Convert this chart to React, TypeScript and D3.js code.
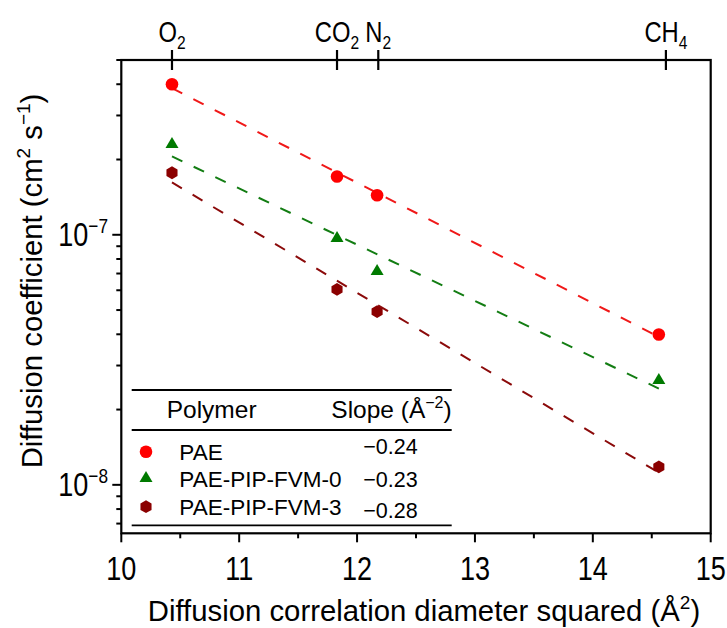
import React from 'react';
import * as d3 from 'd3';

// ---- data ----
const gasBase = ["O", "CO", "N", "CH"];
const gasSub = ["2", "2", "2", "4"];
const gasTickX = [10.43, 11.83, 12.18, 14.62];
const gasX = [10.43, 11.83, 12.17, 14.56];
const seriesNames = ["PAE", "PAE-PIP-FVM-0", "PAE-PIP-FVM-3"];
const paeD = [4.0e-7, 1.71e-7, 1.44e-7, 3.99e-8];
const fvm0D = [2.3e-7, 9.67e-8, 7.14e-8, 2.62e-8];
const fvm3D = [1.77e-7, 6.05e-8, 4.93e-8, 1.18e-8];
const slopeLabels = ["\u22120.24", "\u22120.23", "\u22120.28"];
const xTicks = [10, 11, 12, 13, 14, 15];
const xMinorTicks = [10.5, 11.5, 12.5, 13.5, 14.5];
const yMajorTicks = [1e-8, 1e-7];
const yMajorExp = ["\u22128", "\u22127"];

const W = 727, H = 628;
const L = 121.3, R = 710.7, T = 60, B = 533.3;
const FONT = "'Liberation Sans', Arial, Helvetica, sans-serif";
const SX = 0.82; // condensed look of axis labels
const colors = ["#ff0000", "#007a00", "#8b0000"];
const lineColors = ["#f01818", "#137d13", "#8b0a0a"];

const x = d3.scaleLinear().domain([10, 15]).range([L, R]);
const y = d3.scaleLog().domain([6.4e-9, 5e-7]).range([B, T]);

function fit(xs: number[], ys: number[]) {
  const ly = ys.map((v) => Math.log10(v));
  const mx = d3.mean(xs)!, my = d3.mean(ly)!;
  let sxy = 0, sxx = 0;
  xs.forEach((v, i) => { sxy += (v - mx) * (ly[i] - my); sxx += (v - mx) * (v - mx); });
  const b = sxy / sxx;
  return (xv: number) => Math.pow(10, my + b * (xv - mx));
}

function marker(kind: number, cx: number, cy: number, color: string, key?: string) {
  if (kind === 0) return <circle key={key} cx={cx} cy={cy} r={6.3} fill={color} />;
  if (kind === 1) {
    const hw = 6.5, h = 11;
    const p = `M${cx},${cy - h * 2 / 3}L${cx + hw},${cy + h / 3}L${cx - hw},${cy + h / 3}Z`;
    return <path key={key} d={p} fill={color} />;
  }
  const r = 6.4;
  const pts = d3.range(6).map((i) => {
    const a = Math.PI / 2 + (i * Math.PI) / 3;
    return [cx + r * Math.cos(a), cy - r * Math.sin(a)];
  });
  return <path key={key} d={"M" + pts.map((p) => p.join(",")).join("L") + "Z"} fill={color} />;
}

export default function App() {
  const series = [paeD, fvm0D, fvm3D];
  const xmin = d3.min(gasX)!, xmax = d3.max(gasX)!;
  const line = d3.line<number>().x((d) => x(d[0] as any)).y((d) => y(d[1] as any));
  const yMinor = y.ticks().filter((t) => !yMajorTicks.some((m) => Math.abs(t - m) / m < 1e-6));

  return (
    <svg width={W} height={H} style={{ position: 'absolute', left: 0, top: 0, background: '#fff' }} fontFamily={FONT}>
      {/* fit lines */}
      {series.map((s, i) => {
        const f = fit(gasX, s);
        const pts: any = [[xmin, f(xmin)], [xmax, f(xmax)]];
        return <path key={'l' + i} d={line(pts)!} stroke={lineColors[i]} strokeWidth={2} strokeDasharray="11.5 12.5" fill="none" />;
      })}
      {/* markers */}
      {series.map((s, i) => s.map((v, j) => marker(i, x(gasX[j]), y(v), colors[i], `m${i}-${j}`)))}

      {/* frame */}
      <rect x={L} y={T} width={R - L} height={B - T} fill="none" stroke="#000" strokeWidth={2.2} />

      {/* bottom axis */}
      {xTicks.map((t) => (
        <g key={'xt' + t}>
          <line x1={x(t)} x2={x(t)} y1={B} y2={B + 9} stroke="#000" strokeWidth={2} />
          <text transform={`translate(${x(t)},580) scale(${SX},1)`} textAnchor="middle" fontSize={33}>{t}</text>
        </g>
      ))}
      {xMinorTicks.map((t) => (
        <line key={'xm' + t} x1={x(t)} x2={x(t)} y1={B} y2={B + 5} stroke="#000" strokeWidth={2} />
      ))}

      {/* left axis */}
      {yMajorTicks.map((t, i) => (
        <g key={'yt' + i}>
          <line x1={L - 9} x2={L} y1={y(t)} y2={y(t)} stroke="#000" strokeWidth={2} />
          <text transform={`translate(108,${y(t) + 11}) scale(${SX},1)`} textAnchor="end" fontSize={33}>
            <tspan>10</tspan>
            <tspan dy={-13} fontSize={21}>{yMajorExp[i]}</tspan>
          </text>
        </g>
      ))}
      {yMinor.map((t, i) => (
        <line key={'ym' + i} x1={L - 5} x2={L} y1={y(t)} y2={y(t)} stroke="#000" strokeWidth={2} />
      ))}

      {/* top axis */}
      {gasTickX.map((g, i) => (
        <g key={'g' + i}>
          <line x1={x(g)} x2={x(g)} y1={T - 10} y2={T + 10} stroke="#000" strokeWidth={2.2} />
          <text transform={`translate(${x(g)},42) scale(${SX},1)`} textAnchor="middle" fontSize={29}>
            <tspan>{gasBase[i]}</tspan>
            <tspan dy={7} fontSize={19}>{gasSub[i]}</tspan>
          </text>
        </g>
      ))}

      {/* axis titles */}
      <text x={424} y={621} textAnchor="middle" fontSize={29.3}>
        <tspan>Diffusion correlation diameter squared (Å</tspan>
        <tspan dy={-12} fontSize={19}>2</tspan>
        <tspan dy={12}>)</tspan>
      </text>
      <text transform={`translate(42,281) rotate(-90)`} textAnchor="middle" fontSize={29.3}>
        <tspan>Diffusion coefficient (cm</tspan>
        <tspan dy={-12} fontSize={19}>2</tspan>
        <tspan dy={12}> s</tspan>
        <tspan dy={-12} fontSize={19}>{"\u22121"}</tspan>
        <tspan dy={12}>)</tspan>
      </text>

      {/* legend table */}
      <line x1={131.7} x2={451.7} y1={390} y2={390} stroke="#000" strokeWidth={1.8} />
      <line x1={131.7} x2={451.7} y1={430} y2={430} stroke="#000" strokeWidth={1.8} />
      <line x1={131.7} x2={451.7} y1={525.3} y2={525.3} stroke="#000" strokeWidth={1.8} />
      <text x={166.7} y={418} fontSize={24.5}>Polymer</text>
      <text x={451.7} y={418} fontSize={24.5} textAnchor="end">
        <tspan>Slope (Å</tspan>
        <tspan dy={-10} fontSize={16}>{"\u22122"}</tspan>
        <tspan dy={10}>)</tspan>
      </text>
      {seriesNames.map((n, i) => {
        const cy = [451.7, 478.3, 506.7][i];
        return (
          <g key={'lg' + i}>
            {marker(i, 146, cy, colors[i])}
            <text x={179.3} y={[460, 487.3, 515][i]} fontSize={22.5}>{n}</text>
            <text x={363.3} y={[454, 486.7, 517.7][i]} fontSize={21.5}>{slopeLabels[i]}</text>
          </g>
        );
      })}
    </svg>
  );
}
